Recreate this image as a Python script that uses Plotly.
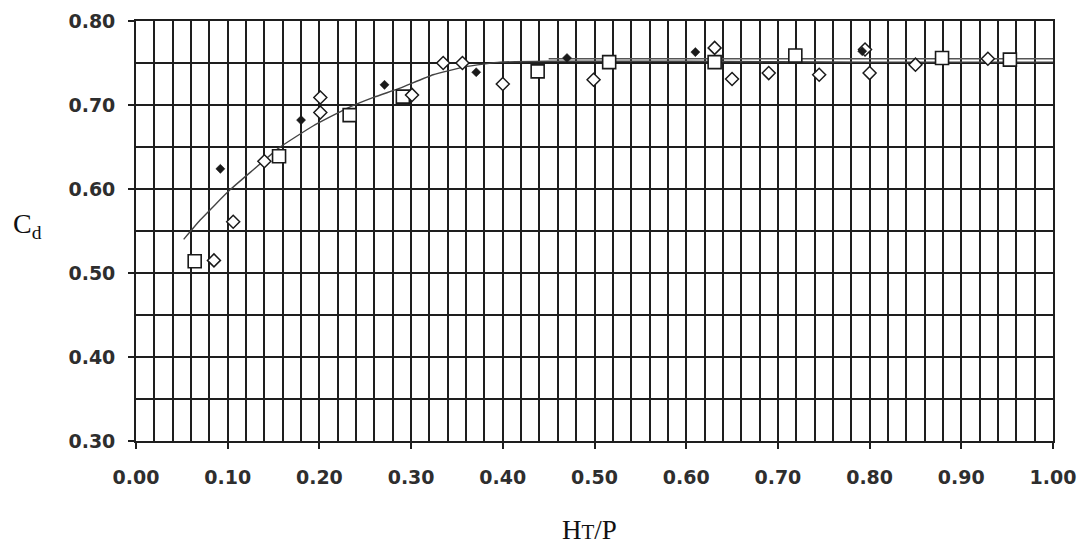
import plotly.graph_objects as go

# --- data ---
square_x = [0.064, 0.156, 0.233, 0.291, 0.438, 0.516, 0.631, 0.719, 0.879, 0.953]
square_y = [0.514, 0.639, 0.688, 0.710, 0.740, 0.751, 0.751, 0.759, 0.756, 0.754]

open_dia_x = [0.085, 0.106, 0.140, 0.201, 0.201, 0.301, 0.335, 0.356, 0.400, 0.499,
              0.631, 0.650, 0.690, 0.745, 0.795, 0.800, 0.850, 0.929]
open_dia_y = [0.515, 0.561, 0.633, 0.709, 0.691, 0.712, 0.750, 0.750, 0.725, 0.730,
              0.768, 0.731, 0.738, 0.736, 0.766, 0.738, 0.748, 0.755]

fill_dia_x = [0.092, 0.180, 0.271, 0.371, 0.470, 0.610, 0.792]
fill_dia_y = [0.624, 0.682, 0.724, 0.739, 0.756, 0.763, 0.764]

curve_x = [0.052, 0.070, 0.1025, 0.128, 0.156, 0.193, 0.230, 0.259, 0.288, 0.324, 0.361, 0.397, 0.45, 0.60, 0.80, 1.00]
curve_y = [0.540, 0.563, 0.599, 0.623, 0.649, 0.675, 0.696, 0.709, 0.720, 0.736, 0.746, 0.751, 0.752, 0.752, 0.751, 0.751]

flat_x = [0.45, 0.60, 0.80, 1.00]
flat_y = [0.755, 0.755, 0.755, 0.755]

x_ticks = [0.0, 0.1, 0.2, 0.3, 0.4, 0.5, 0.6, 0.7, 0.8, 0.9, 1.0]
x_tick_labels = ["0.00", "0.10", "0.20", "0.30", "0.40", "0.50", "0.60", "0.70", "0.80", "0.90", "1.00"]
y_ticks = [0.3, 0.4, 0.5, 0.6, 0.7, 0.8]
y_tick_labels = ["0.30", "0.40", "0.50", "0.60", "0.70", "0.80"]

INK = "#1a1a1a"
GRID = "#1e1e1e"

fig = go.Figure()

fig.add_trace(go.Scatter(x=curve_x, y=curve_y, mode="lines",
                         line=dict(color="#444444", width=1.4, shape="spline", smoothing=0.4),
                         hoverinfo="skip", showlegend=False))
fig.add_trace(go.Scatter(x=flat_x, y=flat_y, mode="lines",
                         line=dict(color="#555555", width=1.4),
                         hoverinfo="skip", showlegend=False))

fig.add_trace(go.Scatter(x=square_x, y=square_y, mode="markers",
                         marker=dict(symbol="square", size=13, color="white",
                                     line=dict(color=INK, width=1.6)),
                         showlegend=False))
fig.add_trace(go.Scatter(x=open_dia_x, y=open_dia_y, mode="markers",
                         marker=dict(symbol="diamond", size=10, color="white",
                                     line=dict(color=INK, width=1.5)),
                         showlegend=False))
fig.add_trace(go.Scatter(x=fill_dia_x, y=fill_dia_y, mode="markers",
                         marker=dict(symbol="diamond", size=7, color=INK,
                                     line=dict(color=INK, width=0.5)),
                         showlegend=False))

tickfont = dict(family="DejaVu Sans", size=19, color="#2e2e2e", weight="bold")

fig.update_xaxes(range=[0, 1], tickvals=x_ticks, ticktext=x_tick_labels,
                 showgrid=True, gridcolor=GRID, gridwidth=1.7,
                 minor=dict(dtick=0.02, tick0=0, showgrid=True, gridcolor=GRID, gridwidth=1.7),
                 showline=True, linecolor=GRID, linewidth=1.7, mirror=True,
                 ticks="outside", ticklen=6, tickcolor=GRID, tickwidth=1.6,
                 ticklabelstandoff=12, tickfont=tickfont, zeroline=False, automargin=False)
fig.update_yaxes(range=[0.3, 0.8], tickvals=y_ticks, ticktext=y_tick_labels,
                 showgrid=True, gridcolor=GRID, gridwidth=1.7,
                 minor=dict(dtick=0.05, tick0=0.3, showgrid=True, gridcolor=GRID, gridwidth=1.7),
                 showline=True, linecolor=GRID, linewidth=1.7, mirror=True,
                 ticks="outside", ticklen=6, tickcolor=GRID, tickwidth=1.6,
                 ticklabelstandoff=9, tickfont=tickfont, zeroline=False, automargin=False)

# page body has an 8px default margin; margins below compensate so the plot lands where the reference has it
fig.update_layout(
    width=1088, height=549,
    margin=dict(l=128, r=43, t=13, b=116),
    paper_bgcolor="white", plot_bgcolor="white",
    annotations=[
        dict(text="C<sub>d</sub>", xref="paper", yref="paper",
             x=(27 - 136) / 917, y=(441 - 225) / 420, xanchor="center", yanchor="middle",
             showarrow=False, font=dict(family="Liberation Serif", size=28, color="#111111")),
        dict(text="H<span style='font-size:21px'>T</span>/P", xref="paper", yref="paper",
             x=(589 - 136) / 917, y=-(530 - 441) / 420, xanchor="center", yanchor="middle",
             showarrow=False, font=dict(family="Liberation Serif", size=27, color="#111111")),
    ],
)

fig.write_html("out.html")
